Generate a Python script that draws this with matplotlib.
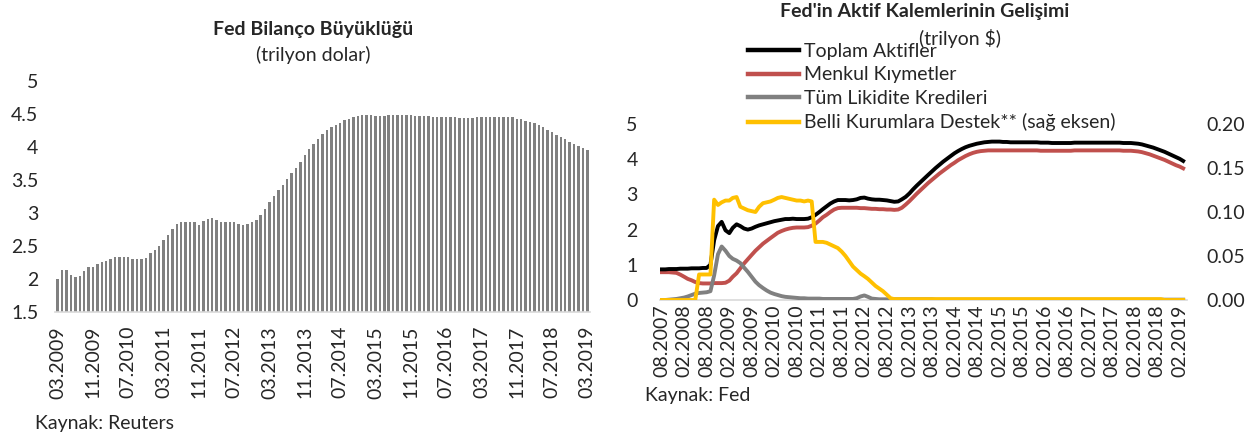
import matplotlib
matplotlib.use("Agg")
import matplotlib.pyplot as plt
import matplotlib.dates as mdates
from matplotlib.lines import Line2D
import numpy as np
import pandas as pd

plt.rcParams['font.family'] = ['Lato', 'DejaVu Sans']

# ---------------- Left chart data: Fed balance sheet size (trillion USD), monthly 03.2009 - 03.2019
bar_months = pd.date_range('2009-03-01', '2019-03-01', freq='MS')
bar_values = [
    2.00, 2.14, 2.14, 2.06, 2.03, 2.04, 2.12, 2.18, 2.18, 2.23,
    2.26, 2.27, 2.30, 2.33, 2.34, 2.34, 2.33, 2.31, 2.30, 2.31,
    2.32, 2.40, 2.44, 2.50, 2.59, 2.67, 2.75, 2.83, 2.87, 2.86,
    2.86, 2.86, 2.82, 2.88, 2.91, 2.93, 2.89, 2.87, 2.86, 2.86,
    2.86, 2.83, 2.82, 2.83, 2.86, 2.90, 2.97, 3.06, 3.16, 3.26,
    3.35, 3.43, 3.52, 3.61, 3.68, 3.78, 3.88, 3.97, 4.05, 4.12,
    4.19, 4.25, 4.30, 4.33, 4.37,
    4.41, 4.43, 4.46, 4.47, 4.48, 4.49,
    4.48, 4.47, 4.47, 4.47, 4.48, 4.48, 4.48, 4.48, 4.48, 4.48, 4.47, 4.47, 4.47, 4.47, 4.46,
    4.45, 4.45, 4.45, 4.45, 4.45, 4.44, 4.44, 4.44, 4.44, 4.45, 4.46, 4.46,
    4.46, 4.46, 4.46, 4.46, 4.45, 4.45,
    4.43, 4.42, 4.40, 4.38, 4.36, 4.33, 4.30, 4.26, 4.22, 4.18, 4.15, 4.12,
    4.08, 4.05, 4.02, 3.98, 3.95,
]
bar_labels = [d.strftime('%m.%Y') for d in bar_months]
left_yticks = [1.5, 2, 2.5, 3, 3.5, 4, 4.5, 5]
left_yticklabels = ['1.5', '2', '2.5', '3', '3.5', '4', '4.5', '5']

# ---------------- Right chart data: Fed assets (trillion $), monthly 08.2007 - 03.2019
line_months = pd.date_range('2007-08-01', '2019-03-01', freq='MS')
toplam_aktifler = [
    0.87, 0.87, 0.88, 0.88, 0.88, 0.89, 0.89, 0.89, 0.90, 0.90, 0.90, 0.91, 0.91,
    1.00, 1.70, 2.10, 2.22, 1.98, 1.90, 2.05, 2.15, 2.10, 2.03, 2.00, 2.03,
    2.08, 2.12, 2.15, 2.18, 2.21, 2.24, 2.26, 2.28, 2.30, 2.30, 2.31, 2.30,
    2.30, 2.30, 2.31, 2.35, 2.42, 2.50, 2.58, 2.66, 2.74, 2.80, 2.84, 2.84,
    2.84, 2.83, 2.84, 2.86, 2.90, 2.91, 2.88, 2.86, 2.85, 2.85, 2.84, 2.83,
    2.81, 2.79, 2.80, 2.86, 2.93, 3.03, 3.14, 3.25, 3.35, 3.45, 3.55, 3.65,
    3.75, 3.84, 3.93, 4.01, 4.09, 4.17, 4.23, 4.29, 4.34, 4.38, 4.41, 4.44,
    4.46, 4.48, 4.49, 4.50, 4.50, 4.50, 4.49, 4.49, 4.48, 4.48, 4.48, 4.48,
    4.48, 4.48, 4.48, 4.48, 4.47, 4.47, 4.47, 4.46, 4.46, 4.46, 4.46, 4.46,
    4.46, 4.47, 4.47, 4.47, 4.47, 4.47, 4.47, 4.47, 4.47, 4.47, 4.47, 4.47,
    4.47, 4.47, 4.46, 4.46, 4.46, 4.45, 4.44, 4.42, 4.39, 4.36, 4.33, 4.29,
    4.25, 4.21, 4.16, 4.11, 4.06, 4.01, 3.95,
]
menkul_kiymetler = [
    0.79, 0.79, 0.79, 0.78, 0.77, 0.72, 0.66, 0.60, 0.56, 0.51, 0.48, 0.47, 0.47,
    0.47, 0.48, 0.48, 0.48, 0.49, 0.55, 0.66, 0.76, 0.90, 1.04, 1.16, 1.28,
    1.40, 1.50, 1.60, 1.68, 1.76, 1.84, 1.91, 1.96, 2.00, 2.03, 2.05, 2.06,
    2.06, 2.06, 2.07, 2.11, 2.17, 2.26, 2.35, 2.42, 2.50, 2.57, 2.61, 2.62,
    2.62, 2.62, 2.62, 2.62, 2.61, 2.61, 2.60, 2.59, 2.59, 2.58, 2.58, 2.57,
    2.57, 2.56, 2.57, 2.62, 2.71, 2.81, 2.91, 3.02, 3.12, 3.22, 3.32, 3.41,
    3.50, 3.59, 3.67, 3.75, 3.83, 3.90, 3.97, 4.03, 4.09, 4.14, 4.18, 4.21,
    4.23, 4.24, 4.25, 4.25, 4.25, 4.25, 4.25, 4.25, 4.25, 4.25, 4.25, 4.25,
    4.25, 4.25, 4.25, 4.25, 4.24, 4.24, 4.24, 4.24, 4.24, 4.24, 4.24, 4.24,
    4.24, 4.25, 4.25, 4.25, 4.25, 4.25, 4.25, 4.25, 4.25, 4.25, 4.25, 4.25,
    4.25, 4.25, 4.24, 4.24, 4.24, 4.23, 4.22, 4.20, 4.17, 4.14, 4.10, 4.06,
    4.02, 3.98, 3.93, 3.88, 3.83, 3.79, 3.74,
]
likidite_kredileri = [
    0.00, 0.00, 0.01, 0.02, 0.03, 0.05, 0.07, 0.10, 0.14, 0.18, 0.20, 0.21, 0.22,
    0.25, 0.70, 1.30, 1.52, 1.40, 1.25, 1.17, 1.12, 1.05, 0.92, 0.80, 0.66,
    0.52, 0.42, 0.34, 0.27, 0.21, 0.17, 0.14, 0.11, 0.09, 0.08, 0.07, 0.06,
    0.05, 0.05, 0.04, 0.04, 0.04, 0.04, 0.03, 0.03, 0.03, 0.03, 0.03, 0.03,
    0.03, 0.03, 0.03, 0.05, 0.10, 0.13, 0.09, 0.04, 0.03, 0.02, 0.02, 0.02,
    0.02, 0.02, 0.02, 0.02, 0.02, 0.02, 0.02, 0.02, 0.02, 0.02, 0.02, 0.02,
    0.01, 0.01, 0.01, 0.01, 0.01, 0.01, 0.01, 0.01, 0.01, 0.01, 0.01, 0.01,
    0.01, 0.01, 0.01, 0.01, 0.01, 0.01, 0.01, 0.01, 0.01, 0.01, 0.01, 0.01,
    0.01, 0.01, 0.01, 0.01, 0.01, 0.01, 0.01, 0.01, 0.01, 0.01, 0.01, 0.01,
    0.01, 0.01, 0.01, 0.01, 0.01, 0.01, 0.01, 0.01, 0.01, 0.01, 0.01, 0.01,
    0.01, 0.01, 0.01, 0.01, 0.01, 0.01, 0.01, 0.01, 0.01, 0.01, 0.01, 0.01,
    0.01, 0.01, 0.01, 0.01, 0.01, 0.01, 0.01,
]
kurumlara_destek = [  # right axis
    0.000, 0.000, 0.000, 0.000, 0.000, 0.000, 0.000, 0.000, 0.000, 0.000, 0.029, 0.029, 0.029,
    0.029, 0.114, 0.108, 0.111, 0.113, 0.113, 0.116, 0.117, 0.106, 0.104, 0.102, 0.101,
    0.100, 0.106, 0.110, 0.111, 0.112, 0.114, 0.116, 0.117, 0.116, 0.115, 0.114, 0.113,
    0.113, 0.112, 0.113, 0.112, 0.066, 0.066, 0.066, 0.065, 0.063, 0.061, 0.059, 0.055,
    0.050, 0.044, 0.038, 0.034, 0.030, 0.027, 0.024, 0.020, 0.016, 0.013, 0.010, 0.006,
    0.002, 0.001, 0.001, 0.001, 0.001, 0.001, 0.001, 0.001, 0.001, 0.001, 0.001, 0.001,
    0.001, 0.001, 0.001, 0.001, 0.001, 0.001, 0.001, 0.001, 0.001, 0.001, 0.001, 0.001,
    0.001, 0.001, 0.001, 0.001, 0.001, 0.001, 0.001, 0.001, 0.001, 0.001, 0.001, 0.001,
    0.001, 0.001, 0.001, 0.001, 0.001, 0.001, 0.001, 0.001, 0.001, 0.001, 0.001, 0.001,
    0.001, 0.001, 0.001, 0.001, 0.001, 0.001, 0.001, 0.001, 0.001, 0.001, 0.001, 0.001,
    0.001, 0.001, 0.001, 0.001, 0.001, 0.001, 0.001, 0.001, 0.001, 0.001, 0.001, 0.001,
    0.001, 0.000, 0.000, 0.000, 0.000, 0.000, 0.000,
]
series_names = ['Toplam Aktifler', 'Menkul Kıymetler', 'Tüm Likidite Kredileri',
                'Belli Kurumlara Destek** (sağ eksen)']
right_yticks = [0, 1, 2, 3, 4, 5]
right2_yticks = [0.00, 0.05, 0.10, 0.15, 0.20]
right_xticks = pd.date_range('2007-08-01', '2019-02-01', freq='6MS')

W, H = 1252, 440
fig = plt.figure(figsize=(W / 100, H / 100), dpi=100)

def fax(x0, y0, x1, y1):
    return fig.add_axes([x0 / W, 1 - y1 / H, (x1 - x0) / W, (y1 - y0) / H])

TXT = '#262626'
FS = 14

# ---------------- Left chart
ax1 = fax(55, 81, 590, 312)
xpos = np.arange(len(bar_values))
ax1.bar(xpos, bar_values, width=0.55, color='#808080', zorder=2)
ax1.set_ylim(1.5, 5)
ax1.set_xlim(-0.6, len(bar_values) - 0.4)
ax1.set_yticks(left_yticks)
ax1.set_yticklabels(left_yticklabels)
tick_idx = list(range(0, len(bar_values), 8))
ax1.set_xticks(tick_idx)
ax1.set_xticklabels([bar_labels[i] for i in tick_idx], rotation=90)
for s in ['top', 'right', 'left']:
    ax1.spines[s].set_visible(False)
ax1.spines['bottom'].set_color('#d9d9d9')
ax1.spines['bottom'].set_linewidth(1.2)
ax1.tick_params(axis='y', length=0, pad=12, labelsize=FS, colors=TXT)
ax1.tick_params(axis='x', length=0, pad=10, labelsize=FS, colors=TXT)
fig.text(313 / W, 1 - 30 / H, 'Fed Bilanço Büyüklüğü', ha='center', va='center',
         fontsize=FS, fontweight='bold', color=TXT)
fig.text(313 / W, 1 - 55 / H, '(trilyon dolar)', ha='center', va='center',
         fontsize=FS, color=TXT)
fig.text(35 / W, 1 - 423 / H, 'Kaynak: Reuters', ha='left', va='center',
         fontsize=FS, color=TXT)

# ---------------- Right chart
ax2 = fax(660, 124, 1187, 300)
lw = 2.8
ax2.plot(line_months, toplam_aktifler, color='#000000', lw=lw, zorder=3)
ax2.plot(line_months, menkul_kiymetler, color='#c0504d', lw=lw, zorder=2)
ax2.plot(line_months, likidite_kredileri, color='#808080', lw=lw, zorder=4)
ax2.set_ylim(0, 5)
ax2.set_yticks(right_yticks)
ax2.set_xlim(pd.Timestamp('2007-07-20'), pd.Timestamp('2019-04-01'))
ax2.set_xticks(right_xticks)
ax2.xaxis.set_major_formatter(mdates.DateFormatter('%m.%Y'))
for lab in ax2.get_xticklabels():
    lab.set_rotation(90)
for s in ['top', 'right', 'left']:
    ax2.spines[s].set_visible(False)
ax2.spines['bottom'].set_color('#d9d9d9')
ax2.spines['bottom'].set_linewidth(1.2)
ax2.tick_params(axis='y', length=0, pad=16, labelsize=FS, colors=TXT)
ax2.tick_params(axis='x', length=0, pad=3, labelsize=FS, colors=TXT)

ax3 = ax2.twinx()
ax3.plot(line_months, kurumlara_destek, color='#ffc000', lw=lw, zorder=5)
ax3.set_ylim(0, 0.20)
ax3.set_yticks(right2_yticks)
ax3.set_yticklabels([f'{v:.2f}' for v in right2_yticks])
for s in ['top', 'right', 'left', 'bottom']:
    ax3.spines[s].set_visible(False)
ax3.tick_params(axis='y', length=0, pad=14, labelsize=FS, colors=TXT)

fig.text(925 / W, 1 - 12 / H, "Fed'in Aktif Kalemlerinin Gelişimi", ha='center', va='center',
         fontsize=FS, fontweight='bold', color=TXT)
fig.text(960 / W, 1 - 38 / H, '(trilyon $)', ha='center', va='center',
         fontsize=FS, color=TXT)
fig.text(645 / W, 1 - 395 / H, 'Kaynak: Fed', ha='left', va='center',
         fontsize=FS, color=TXT)

handles = [Line2D([], [], color=c, lw=3.2) for c in ['#000000', '#c0504d', '#808080', '#ffc000']]
fig.legend(handles, series_names, loc='upper left', bbox_to_anchor=(748 / W, 1 - 43 / H),
           frameon=False, fontsize=FS, handlelength=2.6, handletextpad=0.3,
           labelspacing=0.33, borderpad=0, borderaxespad=0, labelcolor=TXT)

fig.savefig('out.png', dpi=100)
